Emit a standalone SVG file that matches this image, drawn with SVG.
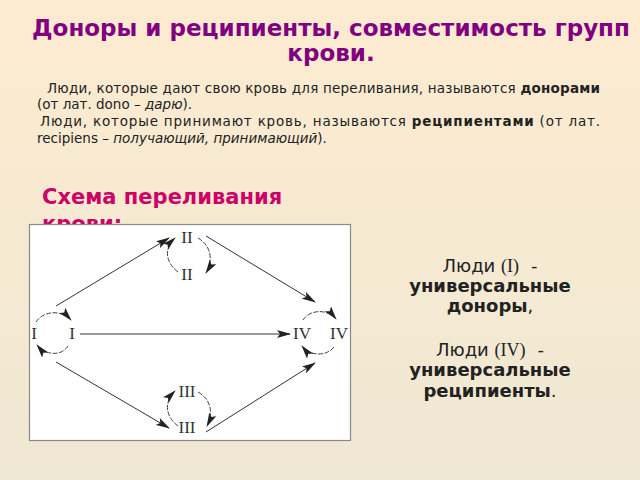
<svg xmlns="http://www.w3.org/2000/svg" width="640" height="480" viewBox="0 0 640 480">
<defs>
<linearGradient id="bg" x1="0" y1="0" x2="0" y2="1">
<stop offset="0" stop-color="#fdebd0"/>
<stop offset="1" stop-color="#efe8d3"/>
</linearGradient>
<marker id="ah" viewBox="0 0 14 8" refX="13" refY="4" markerWidth="14" markerHeight="8" markerUnits="userSpaceOnUse" orient="auto">
<path d="M0,0 L14,4 L0,8 L3,4 Z" fill="#222"/>
</marker>
</defs>
<style>
.t{font-family:"DejaVu Sans","Noto Sans",sans-serif;fill:#222;}
.title{font-family:"DejaVu Sans",sans-serif;font-weight:bold;font-size:23px;fill:#800080;}
.head{font-family:"DejaVu Sans",sans-serif;font-weight:bold;font-size:21px;fill:#cc0066;}
.p{font-size:13.5px;}
.r{font-size:18px;}
.n{font-family:"Liberation Serif","DejaVu Serif",serif;font-size:17px;fill:#333;text-anchor:middle;}
.c{fill:none;stroke:#333;stroke-width:1;marker-end:url(#ah);}
.lp{fill:none;stroke:#444;stroke-width:1;stroke-dasharray:5 1.5;marker-end:url(#ah);}
.sr{font-family:"Liberation Serif","DejaVu Serif",serif;}
</style>
<rect width="640" height="480" fill="url(#bg)"/>
<text class="title" x="331" y="36" text-anchor="middle">Доноры и реципиенты, совместимость групп</text>
<text class="title" x="331" y="61" text-anchor="middle">крови.</text>
<text class="t p" x="47" y="93" textLength="553" lengthAdjust="spacing">Люди, которые дают свою кровь для переливания, называются <tspan font-weight="bold">донорами</tspan></text>
<text class="t p" x="37" y="109">(от лат. dono – <tspan font-style="italic">дарю</tspan>).</text>
<text class="t p" x="40" y="126" textLength="560" lengthAdjust="spacing">Люди, которые принимают кровь, называются <tspan font-weight="bold">реципиентами</tspan> (от лат.</text>
<text class="t p" x="37" y="143">recipiens – <tspan font-style="italic">получающий, принимающий</tspan>).</text>
<text class="head" x="42" y="204">Схема переливания</text>
<text class="head" x="42" y="231">крови:</text>
<g id="box"><rect x="29.5" y="224.5" width="321" height="216" fill="#fff" stroke="#888" stroke-width="1.2"/></g>
<g id="connectors">
<line class="c" x1="56" y1="306" x2="169" y2="238"/>
<line class="c" x1="206" y1="236" x2="315" y2="302"/>
<line class="c" x1="56" y1="362" x2="169" y2="428"/>
<line class="c" x1="206" y1="432" x2="315" y2="363"/>
<line class="c" x1="80" y1="334" x2="290" y2="334" stroke-width="1.6"/>
<path class="lp" d="M178,272 C165,262 164,248 175,238"/>
<path class="lp" d="M198,238 C212,246 213,262 206,273"/>
<path class="lp" d="M178,426 C165,416 164,402 175,391"/>
<path class="lp" d="M198,392 C212,400 213,414 207,426"/>
<path class="lp" d="M36,322 C44,310 62,310 71,320"/>
<path class="lp" d="M68,346 C62,356 46,356 37,345"/>
<path class="lp" d="M303,320 C310,309 328,309 336,319"/>
<path class="lp" d="M334,347 C326,357 310,356 302,346"/>
</g>
<g id="II_top"><text class="n" x="187" y="243">II</text></g>
<g id="II_bottom"><text class="n" x="187" y="280">II</text></g>
<g id="I_left"><text class="n" x="34" y="339">I</text></g>
<g id="I_right"><text class="n" x="72" y="339">I</text></g>
<g id="IV_left"><text class="n" x="302" y="339">IV</text></g>
<g id="IV_right"><text class="n" x="339" y="339">IV</text></g>
<g id="III_top"><text class="n" x="187" y="397">III</text></g>
<g id="III_bottom"><text class="n" x="187" y="433">III</text></g>
<g id="legend">
<text class="t r" x="490" y="272" text-anchor="middle">Люди <tspan class="sr">(I)</tspan><tspan dx="12">-</tspan></text>
<text class="t r" x="490" y="292" text-anchor="middle" font-weight="bold">универсальные</text>
<text class="t r" x="490" y="312" text-anchor="middle"><tspan font-weight="bold">доноры</tspan>,</text>
<text class="t r" x="490" y="356" text-anchor="middle">Люди <tspan class="sr">(IV)</tspan><tspan dx="12">-</tspan></text>
<text class="t r" x="490" y="376" text-anchor="middle" font-weight="bold">универсальные</text>
<text class="t r" x="490" y="397" text-anchor="middle"><tspan font-weight="bold">реципиенты</tspan>.</text>
</g>
</svg>
